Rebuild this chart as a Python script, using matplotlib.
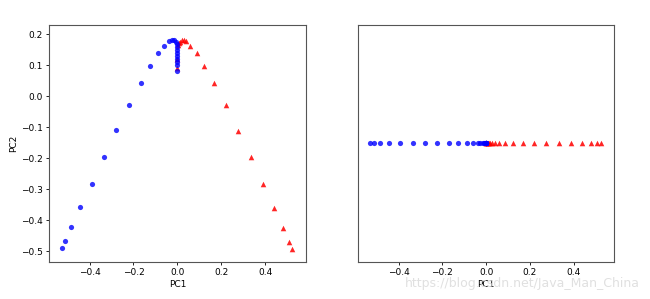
import matplotlib.pyplot as plt
import numpy as np

# projected half-moons, first two principal components
blue_pc1 = [-0.528, -0.510, -0.483, -0.443, -0.391, -0.335, -0.278, -0.222, -0.168,
            -0.126, -0.088, -0.061, -0.039, -0.026, -0.015, -0.008, -0.004, -0.002,
            -0.001, 0.0, 0.0, 0.0, 0.0, 0.0, 0.0]
blue_pc2 = [-0.491, -0.468, -0.423, -0.359, -0.282, -0.197, -0.110, -0.030, 0.041,
            0.097, 0.138, 0.163, 0.177, 0.182, 0.180, 0.175, 0.168, 0.160,
            0.150, 0.140, 0.130, 0.120, 0.110, 0.100, 0.080]

red_pc1 = [0.0, 0.0, 0.004, 0.008, 0.014, 0.020, 0.028, 0.040, 0.059, 0.088, 0.123,
           0.167, 0.220, 0.275, 0.334, 0.390, 0.439, 0.481, 0.508, 0.524]
red_pc2 = [0.09, 0.12, 0.165, 0.172, 0.176, 0.180, 0.182, 0.178, 0.163, 0.138, 0.096,
           0.041, -0.030, -0.111, -0.197, -0.283, -0.360, -0.424, -0.469, -0.494]

plt.rcParams['font.size'] = 6.5

fig = plt.figure(figsize=(6.5, 2.99), dpi=100)

ax = fig.add_axes([0.0754, 0.1237, 0.395, 0.793])
ax.scatter(red_pc1, red_pc2, color='red', marker='^', s=16, alpha=0.85, linewidths=0)
ax.scatter(blue_pc1, blue_pc2, color='blue', marker='o', s=14, alpha=0.8, linewidths=0)
ax.set_xlim(-0.585, 0.585)
ax.set_ylim(-0.535, 0.23)
ax.set_xlabel('PC1', labelpad=2)
ax.set_ylabel('PC2', labelpad=2)

ax = fig.add_axes([0.5508, 0.1237, 0.394, 0.793])
ax.scatter(red_pc1, np.zeros(len(red_pc1)), color='red', marker='^', s=16, alpha=0.85, linewidths=0)
ax.scatter(blue_pc1, np.zeros(len(blue_pc1)), color='blue', marker='o', s=14, alpha=0.8, linewidths=0)
ax.set_xlim(-0.585, 0.585)
ax.set_ylim(-1, 1)
ax.set_yticks([])
ax.set_xlabel('PC1', labelpad=2)

for a in fig.axes:
    for sp in a.spines.values():
        sp.set_color('#555555')
    a.tick_params(length=2.5, width=0.6, pad=2)

fig.text(0.985, 0.052, 'https://blog.csdn.net/Java_Man_China', color='#dddddd',
         fontsize=9, ha='right', va='center', alpha=0.9)

fig.savefig('out.png', dpi=100)
